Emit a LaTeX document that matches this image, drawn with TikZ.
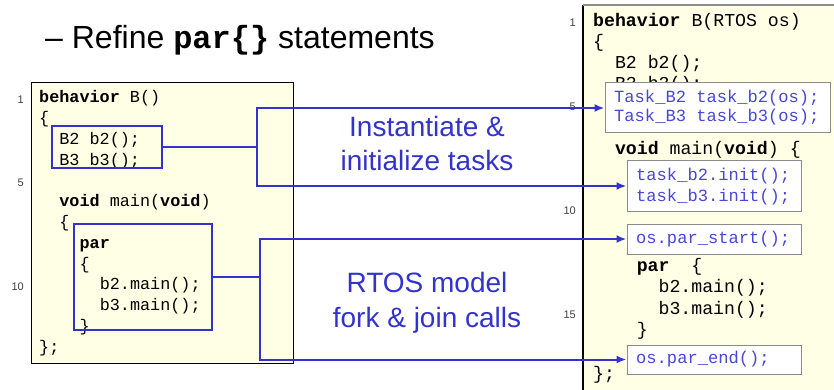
\documentclass[tikz,border=0pt]{standalone}
\usepackage{fontspec}
\setmainfont{Liberation Sans}
\setmonofont{Liberation Mono}
\usetikzlibrary{arrows.meta}
\definecolor{linkblue}{RGB}{51,51,204}
\definecolor{codeblue}{RGB}{72,72,214}
\definecolor{paper}{RGB}{255,255,230}
\definecolor{boxgray}{RGB}{140,140,140}
\begin{document}
\begin{tikzpicture}[x=1pt,y=1pt,yscale=-1,xscale=1,
	lnum/.style={anchor=east,inner sep=0pt,font=\fontsize{11}{13}\selectfont,text=black!75},
	codeL/.style={anchor=base west,inner sep=0pt,font=\fontsize{16.8}{20}\selectfont\ttfamily},
	codeR/.style={anchor=base west,inner sep=0pt,font=\fontsize{18.2}{21}\selectfont\ttfamily},
	taskcode/.style={anchor=base west,inner sep=0pt,font=\fontsize{17.1}{21}\selectfont\ttfamily,text=codeblue},
	markbox/.style={draw=linkblue,line width=2pt,inner sep=0pt},
	newbox/.style={draw=boxgray,fill=white,line width=1pt,inner sep=0pt},
	wire/.style={draw=linkblue,line width=2pt},
	tip/.style={-{Latex[length=10pt,width=8pt]}},
	note/.style={anchor=base,inner sep=0pt,font=\fontsize{28}{34}\selectfont,text=linkblue}]
	\useasboundingbox (0,0) rectangle (834,390);

	% Title
	\node (title) [anchor=base west,inner sep=0pt,font=\fontsize{32}{38}\selectfont] at (45,49) {– Refine \textbf{\texttt{par\{\}}} statements};

	%Left code box
	\draw [fill=paper,line width=1pt] (31,83) rectangle (293,363);
	\node (ln1) [lnum] at (24,100) {1};
	\node (ln5) [lnum] at (24,183) {5};
	\node (ln10) [lnum] at (24,287) {10};
	\node (a1) [codeL] at (39,103) {\textbf{behavior} B()};
	\node (a2) [codeL] at (39,123.75) {\{};
	\node (a3) [codeL] at (59.2,144.5) {B2 b2();};
	\node (a4) [codeL] at (59.2,165.25) {B3 b3();};
	\node (a6) [codeL] at (59.2,206.75) {\textbf{void} main(\textbf{void})};
	\node (a7) [codeL] at (59.2,227.5) {\{};
	\node (a8) [codeL] at (79.4,248.25) {\textbf{par}};
	\node (a9) [codeL] at (79.4,269) {\{};
	\node (a10) [codeL] at (99.6,289.75) {b2.main();};
	\node (a11) [codeL] at (99.6,310.5) {b3.main();};
	\node (a12) [codeL] at (79.4,331.25) {\}};
	\node (a13) [codeL] at (39,352) {\};};
	% marked statements
	\node (decl) [markbox,minimum width=110pt,minimum height=42pt] at (107,147) {};
	\node (parblk) [markbox,minimum width=138pt,minimum height=106pt] at (143,277) {};

	%Right code box
	\fill [paper] (583,5) rectangle (834,390);
	\draw [line width=1.2pt] (583,390) -- (583,5);
	\draw [boxgray,line width=2pt] (583,5) -- (834,5);
	\node (rn1) [lnum] at (576,23) {1};
	\node (rn5) [lnum] at (576,107) {5};
	\node (rn10) [lnum] at (576,211) {10};
	\node (rn15) [lnum] at (576,315) {15};
	\node (b1) [codeR] at (593,27) {\textbf{behavior} B(RTOS os)};
	\node (b2) [codeR] at (593,48) {\{};
	\node (b3) [codeR] at (614.8,69) {B2 b2();};
	\node (b4) [codeR] at (614.8,90) {B3 b3();};
	\node (b7) [codeR] at (614.8,154) {\textbf{void} main(\textbf{void}) \{};
	\node (b12) [codeR] at (636.6,271) {\textbf{par}~~\{};
	\node (b13) [codeR] at (658.4,292) {b2.main();};
	\node (b14) [codeR] at (658.4,314) {b3.main();};
	\node (b15) [codeR] at (636.6,335) {\}};
	\node (b18) [codeR] at (593,379) {\};};
	% inserted statements
	\node (taskDecl) [newbox,minimum width=225pt,minimum height=50pt] at (717.5,108) {};
	\node (taskInit) [newbox,minimum width=174pt,minimum height=50pt] at (714,186) {};
	\node (parStart) [newbox,minimum width=174pt,minimum height=30pt] at (714,239) {};
	\node (parEnd) [newbox,minimum width=174pt,minimum height=29pt] at (714,359.5) {};
	\node (c1) [taskcode] at (614,103) {Task\_B2 task\_b2(os);};
	\node (c2) [taskcode] at (614,122) {Task\_B3 task\_b3(os);};
	\node (c3) [taskcode] at (636,180) {task\_b2.init();};
	\node (c4) [taskcode] at (636,201) {task\_b3.init();};
	\node (c5) [taskcode] at (636,243) {os.par\_start();};
	\node (c6) [taskcode] at (636,363) {os.par\_end();};

	% Text Node
	\node (inst1) [note] at (427,137) {Instantiate \&};
	\node (inst2) [note] at (427,171) {initialize tasks};
	\node (fork1) [note] at (427,292) {RTOS model};
	\node (fork2) [note] at (427,327) {fork \& join calls};

	%Connectors
	\coordinate (j1) at ([xshift=94pt]decl.east);
	\coordinate (j2) at ([xshift=47pt]parblk.east);
	\draw [wire] (decl.east) -- (j1);
	\draw [wire,tip] (j1) |- (taskDecl.west);
	\draw [wire,tip] (j1) |- (taskInit.west);
	\draw [wire] (parblk.east) -- (j2);
	\draw [wire,tip] (j2) |- (parStart.west);
	\draw [wire,tip] (j2) |- (parEnd.west);
\end{tikzpicture}
\end{document}
